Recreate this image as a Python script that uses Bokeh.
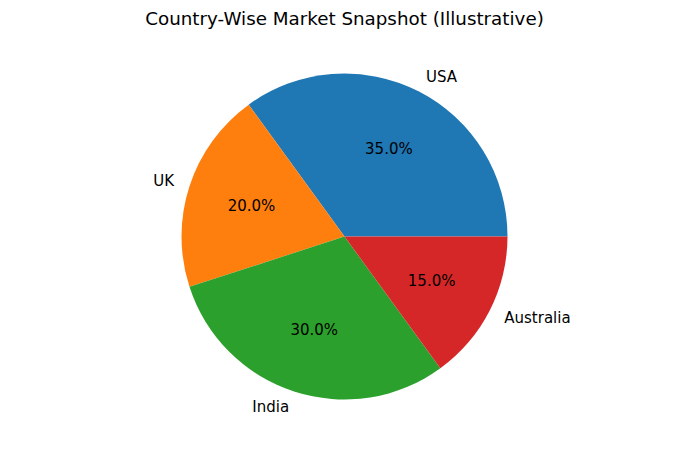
import math

from bokeh.plotting import figure
from bokeh.models import ColumnDataSource, Range1d
from bokeh.core.properties import value
from bokeh.embed import file_html
from bokeh.resources import INLINE

# Market share by country (percent)
countries = ["USA", "UK", "India", "Australia"]
shares = [35, 20, 30, 15]
colors = ["#1f77b4", "#ff7f0e", "#2ca02c", "#d62728"]
title_text = "Country-Wise Market Snapshot (Illustrative)"

W, H = 700, 450
cx, cy = 344, H - 236   # pie centre in screen-like units (y measured upward)
R = 163                  # pie radius
FONT = "DejaVu Sans"
LABEL_SIZE = "15px"

# wedge angles, counter-clockwise from 3 o'clock
total = float(sum(shares))
starts, ends, mids = [], [], []
acc = 0.0
for s in shares:
    a0 = 2 * math.pi * acc / total
    acc += s
    a1 = 2 * math.pi * acc / total
    starts.append(a0)
    ends.append(a1)
    mids.append((a0 + a1) / 2)

src = ColumnDataSource(dict(
    country=countries, share=shares, color=colors,
    start=starts, end=ends,
))

p = figure(width=W, height=H, x_range=Range1d(0, W), y_range=Range1d(0, H),
           output_backend="svg", toolbar_location=None, min_border=0,
           background_fill_color="white", border_fill_color="white")
p.axis.visible = False
p.xgrid.visible = False
p.ygrid.visible = False
p.outline_line_color = None

p.wedge(x=cx, y=cy, radius=R, radius_units="data",
        start_angle="start", end_angle="end",
        fill_color="color", line_color=None, source=src)

# country labels outside the pie
for m, t in zip(mids, countries):
    x = cx + 1.1 * R * math.cos(m)
    y = cy + 1.1 * R * math.sin(m)
    a = "left" if math.cos(m) > 0 else "right"
    p.text(x=[x], y=[y], text=[t], text_align=a, text_baseline="middle",
           text_font=value(FONT), text_font_size=LABEL_SIZE, text_color="black")

# percentage labels inside each wedge
px = [cx + 0.6 * R * math.cos(m) for m in mids]
py = [cy + 0.6 * R * math.sin(m) for m in mids]
pct = ["%.1f%%" % (100 * s / total) for s in shares]
p.text(x=px, y=py, text=pct, text_align="center", text_baseline="middle",
       text_font=value(FONT), text_font_size=LABEL_SIZE, text_color="black")

# title
p.text(x=[cx], y=[H - 18], text=[title_text], text_align="center",
       text_baseline="middle", text_font=value(FONT), text_font_size="18.3px",
       text_color="black")

open("out.html", "w").write(file_html(p, INLINE))
